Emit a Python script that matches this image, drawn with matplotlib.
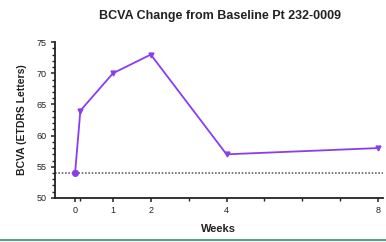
import matplotlib
matplotlib.use("Agg")
import matplotlib.pyplot as plt
from matplotlib.ticker import MultipleLocator, FixedLocator

plt.rcParams['font.family'] = ['Liberation Sans', 'DejaVu Sans']

weeks = [0, 0.14, 1, 2, 4, 8]
bcva = [54, 64, 70, 73, 57, 58]
baseline = 54
xtick_vals = [0, 1, 2, 4, 8]
xtick_labels = ['0', '1', '2', '4', '8']
ytick_vals = [50, 55, 60, 65, 70, 75]

color = '#8a3cf0'

fig = plt.figure(figsize=(3.86, 2.42), dpi=100)
ax = fig.add_axes([0.1425, 0.182, 0.8495, 0.644])

ax.axhline(baseline, color='#666666', linestyle=(0, (1, 1)), linewidth=1.2, zorder=1)
ax.plot(weeks, bcva, color=color, linewidth=1.3, marker='v', markersize=3.5, zorder=3)
ax.plot(weeks[0], bcva[0], marker='o', color=color, markersize=4, zorder=4)

ax.set_xlim(-0.53, 8.13)
ax.set_ylim(50, 75)
ax.set_xticks(xtick_vals)
ax.set_xticklabels(xtick_labels)
ax.xaxis.set_minor_locator(FixedLocator([0.14, 3, 5, 6, 7]))
ax.set_yticks(ytick_vals)
ax.yaxis.set_minor_locator(MultipleLocator(1))

for s in ['top', 'right']:
    ax.spines[s].set_visible(False)
for s in ['left', 'bottom']:
    ax.spines[s].set_linewidth(1.3)
    ax.spines[s].set_color('#222222')

ax.tick_params(axis='both', which='major', labelsize=6.5, length=3, width=1.1, colors='#222222', pad=3)
ax.tick_params(axis='both', which='minor', length=2, width=1, colors='#222222')

ax.set_xlabel('Weeks', fontsize=8, fontweight='bold', color='#222222', labelpad=6)
ax.set_ylabel('BCVA (ETDRS Letters)', fontsize=7.5, fontweight='bold', color='#222222', labelpad=7)
fig.text(0.57, 0.935, 'BCVA Change from Baseline Pt 232-0009', ha='center', va='center',
         fontsize=9, fontweight='bold', color='#222222')

fig.add_artist(plt.Line2D([0, 1], [0.008, 0.008], color='#5aa088', linewidth=1.5))

fig.savefig('out.png', dpi=100)
